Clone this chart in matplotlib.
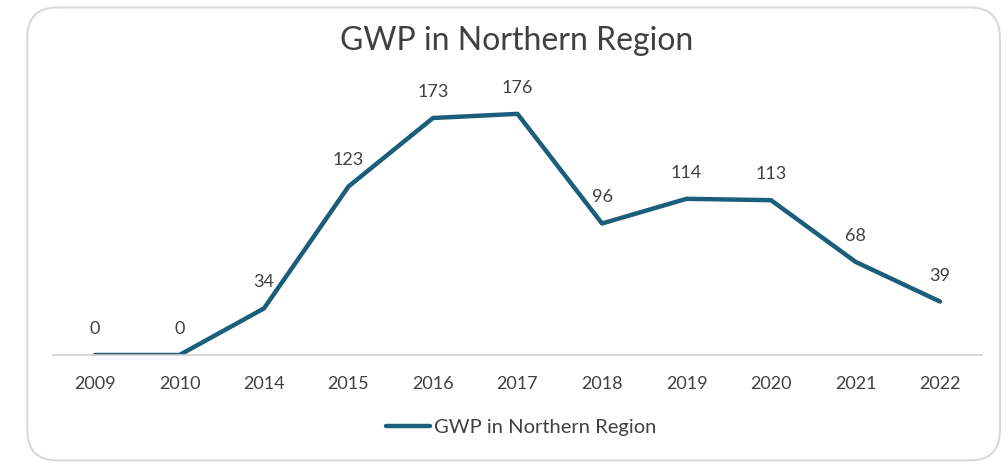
import matplotlib
matplotlib.use("Agg")
import matplotlib.pyplot as plt
from matplotlib.patches import FancyBboxPatch

years = ["2009", "2010", "2014", "2015", "2016", "2017", "2018", "2019", "2020", "2021", "2022"]
gwp = [0, 0, 34, 123, 173, 176, 96, 114, 113, 68, 39]

line_color = "#1B5E7B"
text_color = "#404040"

plt.rcParams["font.family"] = ["Lato", "DejaVu Sans"]

fig = plt.figure(figsize=(10.08, 4.66), dpi=100)

# rounded chart border, kept behind the axes
border = FancyBboxPatch((0.027, 0.012), 0.965, 0.972,
                        boxstyle="round,pad=0,rounding_size=0.03",
                        transform=fig.transFigure, facecolor="white",
                        edgecolor="#D9D9D9", linewidth=1.5, mutation_aspect=2.16,
                        zorder=-10)
fig.patches.append(border)

ax = fig.add_axes([0.0523, 0.2382, 0.9222, 0.588])
ax.set_zorder(5)
x = list(range(len(years)))
ax.plot(x, gwp, color=line_color, linewidth=3.2, solid_capstyle="round",
        label="GWP in Northern Region")

for xi, v in zip(x, gwp):
    ax.annotate(str(v), (xi, v), xytext=(0, 13), textcoords="offset points",
                ha="center", va="bottom", fontsize=13, color=text_color)

ax.set_xlim(-0.5, len(years) - 0.5)
ax.set_ylim(0, 200)
ax.set_xticks(x)
ax.set_xticklabels(years, fontsize=13, color=text_color)
ax.tick_params(axis="x", length=0, pad=15)
ax.set_yticks([])
for s in ["top", "right", "left"]:
    ax.spines[s].set_visible(False)
ax.spines["bottom"].set_color("#D0D0D0")
ax.spines["bottom"].set_linewidth(1.2)
ax.patch.set_alpha(0)

fig.text(0.513, 0.912, "GWP in Northern Region", ha="center", va="center",
         fontsize=23, color=text_color)

leg = fig.legend(loc="center", bbox_to_anchor=(0.517, 0.083), frameon=False,
                 fontsize=14.5, handlelength=2.2, handletextpad=0.2)
for t in leg.get_texts():
    t.set_color(text_color)

fig.savefig("out.png", dpi=100)
